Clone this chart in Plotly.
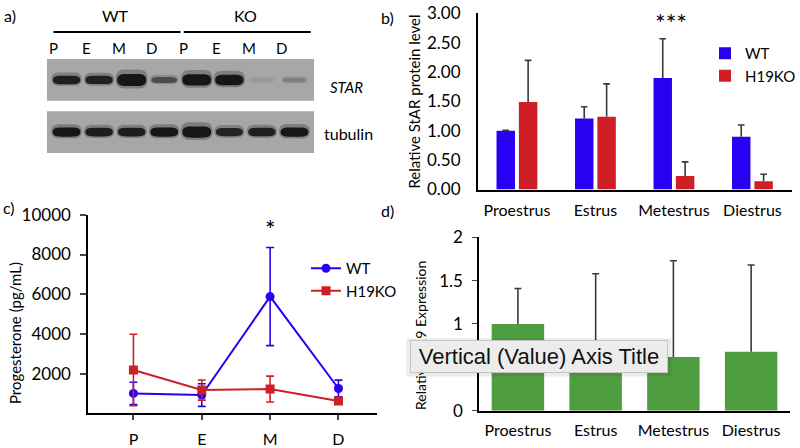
import plotly.graph_objects as go

# ---------------- data ----------------
# panel a: western blot (relative band signal per lane)
lanes = ["P", "E", "M", "D", "P", "E", "M", "D"]
lane_groups = ["WT", "WT", "WT", "WT", "KO", "KO", "KO", "KO"]
star_signal = [0.75, 0.74, 1.00, 0.50, 0.95, 0.90, 0.08, 0.22]
tubulin_signal = [0.80, 0.76, 0.76, 0.80, 0.95, 0.72, 0.75, 0.82]
blot_rows = ["STAR", "tubulin"]

# panel b: relative StAR protein level
stages = ["Proestrus", "Estrus", "Metestrus", "Diestrus"]
star_wt = [1.00, 1.21, 1.90, 0.90]
star_wt_err = [0.01, 0.20, 0.67, 0.20]
star_ko = [1.49, 1.24, 0.23, 0.14]
star_ko_err = [0.71, 0.56, 0.24, 0.12]

# panel c: progesterone (pg/mL)
stage_abbr = ["P", "E", "M", "D"]
prog_wt = [1000, 920, 5880, 1250]
prog_wt_err = [560, 570, 2470, 420]
prog_ko = [2180, 1170, 1220, 620]
prog_ko_err = [1800, 505, 650, 120]
prog_ticks = [2000, 4000, 6000, 8000, 10000]

# panel d: relative H19 expression
h19 = [1.00, 0.72, 0.62, 0.68]
h19_err = [0.41, 0.86, 1.11, 1.00]

# ---------------- style ----------------
FONT = "Lato"
BLUE = "#2a00f2"
RED = "#cf1f26"
GREEN = "#4f9d41"
ERR = "#3a3a3a"
W, H = 800, 448

fig = go.Figure()


def err_lines(xc, vals, errs, cap):
    xs, ys = [], []
    for x, v, e in zip(xc, vals, errs):
        xs += [x, x, None, x - cap, x + cap, None]
        ys += [v, v + e, None, v + e, v + e, None]
    return xs, ys


# ---- panel b ----
bw = 0.235
off_wt, off_ko = -0.26, 0.025
xi = list(range(len(stages)))
fig.add_trace(go.Bar(x=xi, y=star_wt, width=bw, offset=off_wt, name="WT",
                     marker=dict(color=BLUE, line=dict(width=0)),
                     xaxis="x", yaxis="y", legend="legend2"))
fig.add_trace(go.Bar(x=xi, y=star_ko, width=bw, offset=off_ko, name="H19KO",
                     marker=dict(color=RED, line=dict(width=0)),
                     xaxis="x", yaxis="y", legend="legend2"))
for off, vals, errs in [(off_wt, star_wt, star_wt_err), (off_ko, star_ko, star_ko_err)]:
    ex, ey = err_lines([i + off + bw / 2 for i in xi], vals, errs, 0.042)
    fig.add_trace(go.Scatter(x=ex, y=ey, mode="lines", line=dict(color=ERR, width=1.6),
                             showlegend=False, hoverinfo="skip", xaxis="x", yaxis="y"))

# ---- panel c ----
fig.add_trace(go.Scatter(x=xi, y=prog_wt, name="WT", mode="lines+markers",
                         line=dict(color=BLUE, width=2),
                         marker=dict(symbol="circle", size=9, color=BLUE),
                         error_y=dict(type="data", array=prog_wt_err, color=BLUE,
                                      thickness=1.6, width=4),
                         xaxis="x2", yaxis="y2", legend="legend"))
fig.add_trace(go.Scatter(x=xi, y=prog_ko, name="H19KO", mode="lines+markers",
                         line=dict(color=RED, width=2),
                         marker=dict(symbol="square", size=9, color=RED),
                         error_y=dict(type="data", array=prog_ko_err, color=RED,
                                      thickness=1.6, width=4),
                         xaxis="x2", yaxis="y2", legend="legend"))

# ---- panel d ----
dw = 0.675
fig.add_trace(go.Bar(x=xi, y=h19, width=dw, marker=dict(color=GREEN, line=dict(width=0)),
                     showlegend=False, xaxis="x3", yaxis="y3"))
ex, ey = err_lines(xi, h19, h19_err, 0.045)
fig.add_trace(go.Scatter(x=ex, y=ey, mode="lines", line=dict(color=ERR, width=1.6),
                         showlegend=False, hoverinfo="skip", xaxis="x3", yaxis="y3"))

# ---- panel a: blot drawn as shapes on a hidden axis ----
BG = 167


def gray(level, alpha=1.0):
    g = int(round(level))
    return f"rgba({g},{g},{g},{alpha})"


def band_path(cx, cy, w, h):
    x0, x1 = cx - w / 2, cx + w / 2
    t, b = cy - h / 2, cy + h / 2
    return (f"M{x0},{cy} C{x0},{t} {x0 + 0.2 * w},{t} {x0 + 0.32 * w},{t} "
            f"L{x1 - 0.32 * w},{t} C{x1 - 0.2 * w},{t} {x1},{t} {x1},{cy} "
            f"C{x1},{b} {x1 - 0.2 * w},{b} {x1 - 0.32 * w},{b} "
            f"L{x0 + 0.32 * w},{b} C{x0 + 0.2 * w},{b} {x0},{b} {x0},{cy} Z")


PX_X = 32.4   # px per lane unit
PX_Y = 52.2   # px per row unit
shapes = []
for row in range(len(blot_rows)):
    shapes.append(dict(type="rect", xref="x4", yref="y4", x0=-0.6, x1=len(lanes) - 0.4,
                       y0=row - 0.4, y1=row + 0.4, fillcolor=gray(BG), line=dict(width=0),
                       layer="below"))
for row, signal in enumerate([star_signal, tubulin_signal]):
    for lane, s in enumerate(signal):
        dark = min(1.0, 1.25 * s)
        h_px = 4 + 8 * s ** 2
        w_px = 22 + 7 * s
        col = BG - (BG - 22) * dark
        shapes.append(dict(type="path", xref="x4", yref="y4",
                           path=band_path(lane, row - 0.02 * s, (w_px + 3) / PX_X,
                                          (h_px + 3 + 4 * s ** 3) / PX_Y),
                           fillcolor=gray(col, 0.28), line=dict(width=0), layer="below"))
        shapes.append(dict(type="path", xref="x4", yref="y4",
                           path=band_path(lane, row, w_px / PX_X, h_px / PX_Y),
                           fillcolor=gray(col), line=dict(width=0), layer="below"))
for grp in ["WT", "KO"]:
    idx = [i for i, g in enumerate(lane_groups) if g == grp]
    shapes.append(dict(type="line", xref="x4", yref="y4", x0=min(idx) - 0.4, x1=max(idx) + 0.5,
                       y0=-0.92, y1=-0.92, line=dict(color="black", width=2)))
fig.add_trace(go.Scatter(x=[None], y=[None], xaxis="x4", yaxis="y4", showlegend=False))

# ---------------- annotations ----------------
ann = []


def ptxt(text, x, y, size=16, **kw):
    d = dict(text=text, x=x / W, y=1 - y / H, xref="paper", yref="paper", showarrow=False,
             xanchor="center", yanchor="middle",
             font=dict(family=FONT, size=size, color="black"))
    d.update(kw)
    ann.append(d)


ptxt("a)", 10, 15)
ptxt("b)", 387, 17)
ptxt("c)", 9, 207)
ptxt("d)", 387, 210)
for grp in ["WT", "KO"]:
    idx = [i for i, g in enumerate(lane_groups) if g == grp]
    ann.append(dict(text=grp, x=sum(idx) / len(idx), y=-1.24, xref="x4", yref="y4", showarrow=False,
                    font=dict(family=FONT, size=16, color="black")))
for i, lab in enumerate(lanes):
    ann.append(dict(text=lab, x=i, y=-0.61, xref="x4", yref="y4", showarrow=False, xshift=-13,
                    font=dict(family=FONT, size=15, color="black")))
ptxt("<i>" + blot_rows[0] + "</i>", 328, 87, size=15, xanchor="left")
ptxt(blot_rows[1], 322, 133, xanchor="left")
ann.append(dict(text="***", x=2, y=2.83, xref="x", yref="y", showarrow=False, xshift=-3,
                font=dict(family=FONT, size=25, color="black")))
ann.append(dict(text="*", x=2, y=9300, xref="x2", yref="y2", showarrow=False,
                font=dict(family=FONT, size=25, color="black")))
ptxt("Progesterone (pg/mL)", 15, 333, size=15, textangle=-90)
ptxt("Relative H19 Expression", 420, 336, size=14, textangle=-90)
# tooltip (shadow + box)
ptxt("", 539, 357.5, width=262, height=35, bgcolor="rgba(0,0,0,0.08)")
ptxt("Vertical (Value) Axis Title", 539, 356.5, width=254, height=29,
     bgcolor="#ececec", bordercolor="#c4c4c4", borderwidth=1, borderpad=1,
     font=dict(family="Liberation Sans", size=22, color="#111111"))

AX = dict(showgrid=False, zeroline=False, showline=True, linecolor="black", automargin=False,
          tickfont=dict(family=FONT, size=16, color="black"))

fig.update_layout(
    width=W, height=H, margin=dict(l=0, r=0, t=0, b=0, autoexpand=False),
    paper_bgcolor="white", plot_bgcolor="white", barmode="overlay",
    font=dict(family=FONT, color="black"),
    showlegend=True,
    shapes=shapes, annotations=ann,
    # panel b
    xaxis=dict(AX, domain=[0.5971, 0.9896], range=[-0.5, 3.5], tickvals=xi, ticktext=stages,
               ticks="", linewidth=1.5, anchor="y", ticklabelstandoff=6),
    yaxis=dict(AX, domain=[0.577, 0.9699], range=[0, 3], tickvals=[0, 0.5, 1, 1.5, 2, 2.5, 3],
               tickformat=".2f", ticks="", linewidth=1.5, anchor="x", ticklabelstandoff=12,
               tickfont=dict(family=FONT, size=17, color="black"),
               title=dict(text="Relative StAR protein level", standoff=3,
                          font=dict(family=FONT, size=15, color="black"))),
    # panel c
    xaxis2=dict(AX, domain=[0.1104, 0.4709], range=[-0.66, 3.56], tickvals=xi, ticktext=stage_abbr,
                ticks="outside", ticklen=5, tickwidth=2, linewidth=2, anchor="y2",
                ticklabelstandoff=6),
    yaxis2=dict(AX, domain=[0.0775, 0.5205], range=[0, 10000],
                tickvals=prog_ticks, ticktext=[str(v) for v in prog_ticks],
                ticks="outside", ticklen=6,
                tickwidth=2, linewidth=2, anchor="x2", ticklabelstandoff=6,
                tickfont=dict(family=FONT, size=17, color="black")),
    # panel d
    xaxis3=dict(AX, domain=[0.5988, 0.9875], range=[-0.5, 3.5], tickvals=xi, ticktext=stages,
                ticks="", linewidth=1.5, anchor="y3", ticklabelstandoff=4),
    yaxis3=dict(AX, domain=[0.0833, 0.4703], range=[0, 2], tickvals=[0, 0.5, 1, 1.5, 2],
                ticktext=["0", "0.5", "1", "1.5", "2"], ticks="outside", ticklen=5, tickwidth=1.2,
                linewidth=1.5, anchor="x3", ticklabelstandoff=6,
                tickfont=dict(family=FONT, size=17, color="black")),
    # panel a (hidden)
    xaxis4=dict(domain=[47 / W, 314 / W], range=[-0.6, 7.6], visible=False, anchor="y4"),
    yaxis4=dict(domain=[1 - 153 / H, 1 - 10 / H], range=[1.4, -1.34], visible=False, anchor="x4"),
    legend=dict(x=306 / W, y=1 - 252 / H, xanchor="left", yanchor="top", bgcolor="rgba(0,0,0,0)",
                font=dict(family=FONT, size=15, color="black"), itemwidth=30, tracegroupgap=0),
    legend2=dict(x=705 / W, y=1 - 37 / H, xanchor="left", yanchor="top", bgcolor="rgba(0,0,0,0)",
                 font=dict(family=FONT, size=15, color="black"), itemwidth=30, tracegroupgap=0),
)

fig.write_html("out.html", config={"displayModeBar": False},
               post_script="document.body.style.margin='0px';")
